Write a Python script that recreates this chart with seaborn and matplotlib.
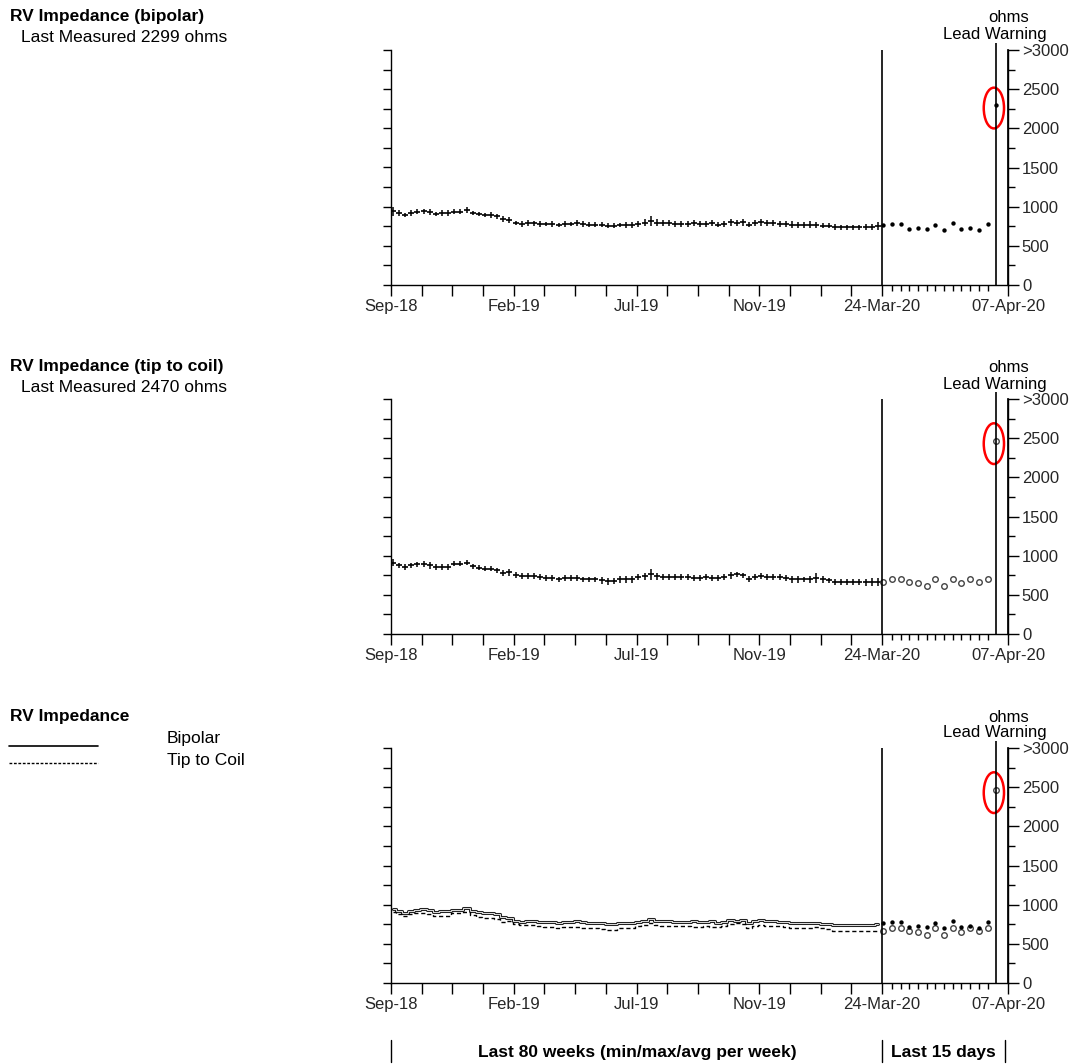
import matplotlib
matplotlib.use('Agg')

import numpy as np
import pandas as pd
import matplotlib.pyplot as plt
from matplotlib.patches import Ellipse
from matplotlib.lines import Line2D
import seaborn as sns

sns.set_theme(style='white')
plt.rcParams['font.family'] = ['Liberation Sans', 'DejaVu Sans']

# weekly average impedance (ohms), Sep-18 .. 24-Mar-20
bip_avg = [940, 920, 895, 920, 935, 940, 930, 905, 920, 920, 935, 935, 958, 920, 907, 895, 895, 877, 843, 830,
           792, 780, 792, 788, 780, 780, 780, 767, 780, 780, 788, 780, 770, 770, 770, 758, 758, 767, 767, 767,
           780, 792, 813, 792, 792, 792, 780, 780, 780, 792, 780, 780, 792, 770, 780, 800, 792, 800, 770, 792,
           800, 792, 792, 780, 780, 767, 767, 767, 767, 767, 758, 758, 737, 737, 737, 737, 737, 737, 737, 750]
tip_avg = [910, 876, 855, 876, 889, 889, 876, 855, 855, 855, 897, 897, 910, 863, 846, 833, 833, 812, 778, 790,
           756, 739, 739, 739, 726, 714, 714, 697, 714, 714, 714, 697, 697, 697, 684, 675, 675, 697, 697, 697,
           726, 739, 760, 739, 726, 726, 726, 726, 726, 714, 714, 726, 714, 714, 726, 748, 760, 748, 705, 726,
           739, 726, 726, 726, 714, 697, 697, 697, 697, 714, 697, 684, 662, 662, 662, 662, 662, 662, 662, 662]
# weekly min-max span (ohms)
bip_rng = [110, 70, 60, 70, 60, 70, 70, 60, 70, 80, 70, 70, 80, 60, 60, 60, 70, 70, 80, 80,
           60, 70, 70, 60, 70, 60, 70, 60, 70, 60, 80, 70, 60, 70, 60, 70, 70, 60, 70, 80,
           70, 90, 130, 90, 70, 70, 80, 70, 70, 80, 70, 70, 70, 60, 80, 90, 80, 90, 60, 80,
           90, 80, 80, 70, 80, 90, 80, 80, 90, 80, 70, 70, 80, 70, 70, 70, 70, 80, 80, 100]
tip_rng = [90, 60, 70, 70, 70, 80, 80, 80, 80, 70, 70, 70, 70, 60, 70, 70, 70, 70, 80, 90,
           70, 80, 80, 80, 70, 70, 70, 60, 70, 70, 70, 70, 60, 70, 80, 90, 70, 80, 80, 80,
           70, 90, 150, 90, 80, 70, 80, 70, 80, 70, 80, 70, 80, 80, 70, 80, 70, 70, 70, 80,
           80, 80, 80, 80, 80, 80, 80, 70, 80, 120, 80, 70, 80, 80, 80, 80, 80, 90, 100, 100]

# last days (ohms)
bip_daily = [760, 780, 780, 710, 730, 710, 770, 700, 790, 710, 730, 700, 780, 2299]
tip_daily = [667, 700, 700, 667, 646, 617, 700, 608, 700, 650, 700, 667, 700, 2470]

week_labels = ['Sep-18', 'Feb-19', 'Jul-19', 'Nov-19', '24-Mar-20']
right_labels = ['0', '500', '1000', '1500', '2000', '2500', '>3000']

W, H = 1070, 1064
FS = 12
xw = np.arange(len(bip_avg)) + 0.3
xd = 80.16 + np.arange(len(bip_daily)) * 1.417
XR = 100.5          # right axis position
XWARN = 98.6        # lead warning line

weekly = pd.DataFrame({'x': xw, 'bip': bip_avg, 'tip': tip_avg,
                       'bip_rng': bip_rng, 'tip_rng': tip_rng})
daily = pd.DataFrame({'x': xd, 'bip': bip_daily, 'tip': tip_daily})

fig = plt.figure(figsize=(W / 100, H / 100), dpi=100)


def ft(x, y, s, **kw):
    fig.text(x / W, 1 - y / H, s, color='black', **kw)


def setup_axes(ax):
    ax.set_xlim(0, XR)
    ax.set_ylim(0, 3000)
    ax.set_xlabel('')
    ax.set_ylabel('')
    for side in ['left', 'bottom', 'right']:
        ax.spines[side].set_visible(True)
        ax.spines[side].set_color('black')
        ax.spines[side].set_linewidth(1)
    ax.spines['top'].set_visible(False)
    ax.set_yticks(range(0, 3001, 250))
    ax.tick_params(axis='y', left=True, labelleft=False, length=6, width=1,
                   direction='out', color='black')
    major = list(range(0, 81, 5)) + [XR]
    labels = []
    for t in major:
        if t == XR:
            labels.append('07-Apr-20')
        elif t % 20 == 0:
            labels.append(week_labels[t // 20])
        else:
            labels.append('')
    ax.set_xticks(major)
    ax.set_xticklabels(labels, fontsize=FS)
    ax.set_xticks(list(xd[1:13]), minor=True)
    ax.tick_params(axis='x', which='major', bottom=True, length=8, width=1,
                   direction='out', color='black', pad=2)
    ax.tick_params(axis='x', which='minor', bottom=True, length=4, width=1,
                   direction='out', color='black')

    ax2 = ax.twinx()
    ax2.set_ylim(0, 3000)
    ax2.set_yticks(range(0, 3001, 500))
    ax2.set_yticklabels(right_labels, fontsize=FS)
    ax2.set_yticks(range(250, 3000, 500), minor=True)
    ax2.tick_params(axis='y', which='major', right=True, length=8, width=1,
                    direction='out', color='black', pad=2)
    ax2.tick_params(axis='y', which='minor', right=True, length=5, width=1,
                    direction='out', color='black')
    for side in ['top', 'left', 'bottom']:
        ax2.spines[side].set_visible(False)
    ax2.spines['right'].set_color('black')

    ax.axvline(80, color='black', lw=1.2)
    ax.vlines(XWARN, 0, 3090, color='black', lw=1.2, clip_on=False)


def draw_weekly(ax, col, rcol):
    ax.vlines(weekly['x'], weekly[col] - weekly[rcol] / 2, weekly[col] + weekly[rcol] / 2,
              color='black', lw=1.1)
    sns.scatterplot(data=weekly, x='x', y=col, marker='_', s=16, color='black',
                    linewidth=1.2, ax=ax, legend=False)


def ring(ax, value):
    ax.add_patch(Ellipse((XWARN - 0.4, value - 40), width=3.3, height=520,
                         fill=False, edgecolor='red', lw=1.8))


bottoms = [285, 634, 983]
axes = [fig.add_axes([391 / W, 1 - b / H, (1008 - 391) / W, 235 / H]) for b in bottoms]

# panel 1: bipolar
ax = axes[0]
draw_weekly(ax, 'bip', 'bip_rng')
sns.scatterplot(data=daily, x='x', y='bip', marker='o', s=10, color='black',
                linewidth=0, ax=ax, legend=False)
setup_axes(ax)
ring(ax, bip_daily[-1])

# panel 2: tip to coil
ax = axes[1]
draw_weekly(ax, 'tip', 'tip_rng')
sns.scatterplot(data=daily, x='x', y='tip', marker='o', s=16, facecolor='white',
                edgecolor='#444444', linewidth=1, ax=ax, legend=False)
setup_axes(ax)
ring(ax, tip_daily[-1])

# panel 3: both
ax = axes[2]
sns.lineplot(data=weekly, x='x', y='bip', color='#222222', lw=2.2, drawstyle='steps-mid',
             ax=ax, legend=False)
sns.lineplot(data=weekly, x='x', y='bip', color='#dddddd', lw=0.7, drawstyle='steps-mid',
             ax=ax, legend=False)
sns.lineplot(data=weekly, x='x', y='tip', color='black', lw=1, drawstyle='steps-mid',
             linestyle=(0, (3, 2)), ax=ax, legend=False)
sns.scatterplot(data=daily, x='x', y='tip', marker='o', s=16, facecolor='white',
                edgecolor='#444444', linewidth=1, ax=ax, legend=False)
sns.scatterplot(data=daily.iloc[:-1], x='x', y='bip', marker='o', s=10, color='black',
                linewidth=0, ax=ax, legend=False)
setup_axes(ax)
ring(ax, tip_daily[-1])

# header texts
heads = [('RV Impedance (bipolar)', 'Last Measured 2299 ohms', 17),
         ('RV Impedance (tip to coil)', 'Last Measured 2470 ohms', 367),
         ('RV Impedance', None, 716)]
for title, sub, y in heads:
    ft(10, y, title, fontsize=12.5, fontweight='bold', va='center', ha='left')
    if sub:
        ft(21, y + 21, sub, fontsize=12.5, va='center', ha='left')
    ft(1009, y + 1, 'ohms', fontsize=FS, va='center', ha='center')
    ft(995, y + 17, 'Lead Warning', fontsize=FS, va='center', ha='center')

# legend of panel 3
fig.add_artist(Line2D([9 / W, 98 / W], [1 - 746 / H] * 2, color='black', lw=1.2,
                      transform=fig.transFigure))
fig.add_artist(Line2D([9 / W, 98 / W], [1 - 763 / H] * 2, color='black', lw=1,
                      linestyle=(0, (2, 1.2)), transform=fig.transFigure))
ft(167, 738, 'Bipolar', fontsize=12.5, va='center', ha='left')
ft(167, 760, 'Tip to Coil', fontsize=12.5, va='center', ha='left')

# footer
for xs in [391, 882, 1005]:
    fig.add_artist(Line2D([xs / W] * 2, [1 - 1040 / H, 1 - 1062 / H], color='black', lw=1,
                          transform=fig.transFigure))
ft(637, 1052, 'Last 80 weeks (min/max/avg per week)', fontsize=12.5, fontweight='bold',
   va='center', ha='center')
ft(943, 1052, 'Last 15 days', fontsize=12.5, fontweight='bold', va='center', ha='center')

fig.savefig('out.png', dpi=100)
